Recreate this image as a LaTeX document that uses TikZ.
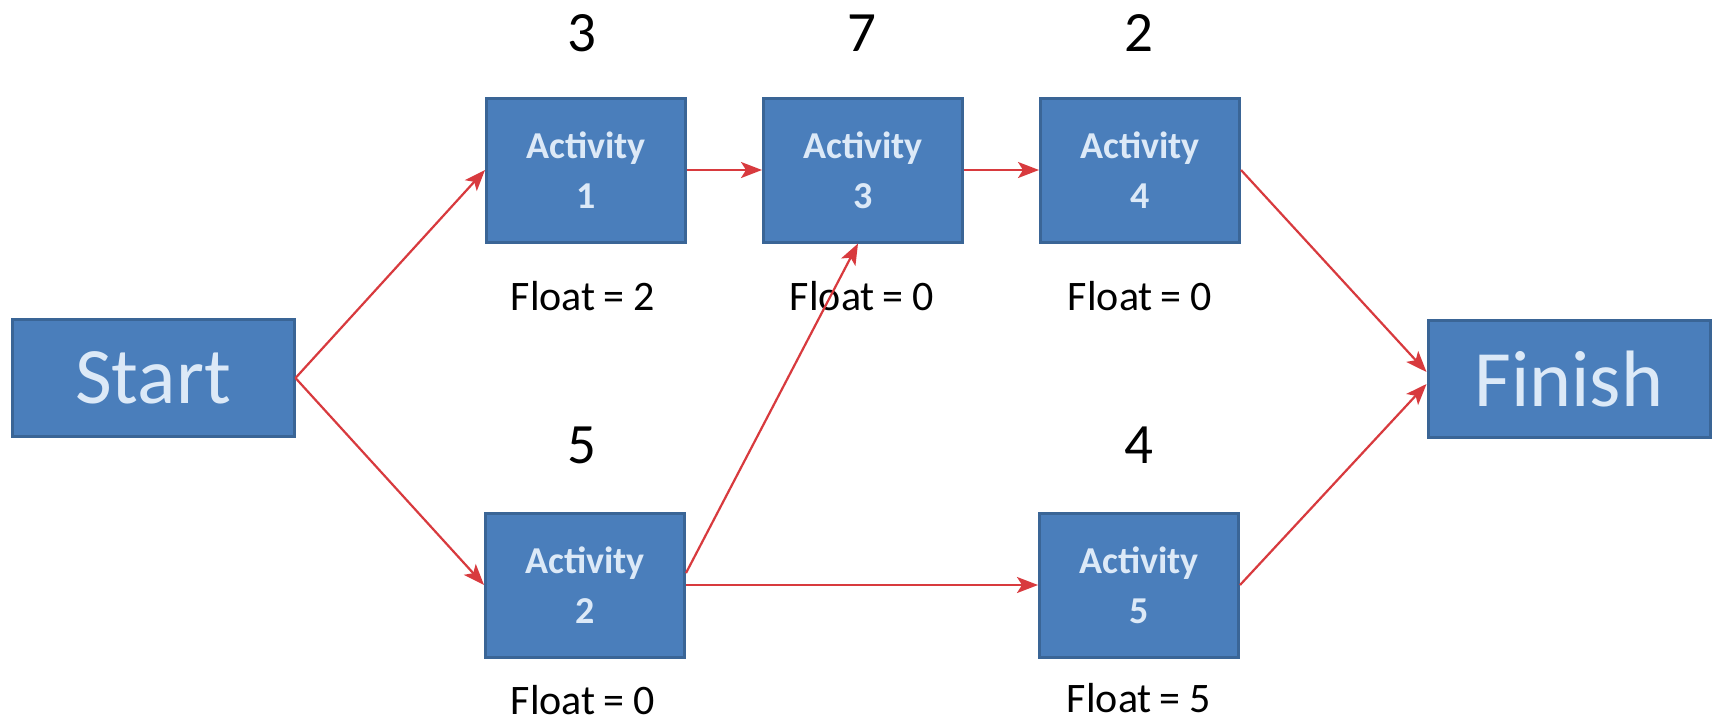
\documentclass[tikz,border=0pt]{standalone}
\usepackage{fontspec}
\setmainfont{Carlito}
\usetikzlibrary{arrows.meta}
\definecolor{boxfill}{HTML}{4A7EBB}
\definecolor{boxline}{HTML}{3A6596}
\definecolor{boxtext}{HTML}{DCE9F7}
\definecolor{arrowred}{HTML}{D83A3E}
\tikzset{
  bigbox/.style={draw=boxline, line width=3pt, fill=boxfill, text=boxtext,
    minimum width=282pt, minimum height=117pt, inner sep=0pt,
    font=\fontsize{80}{90}\selectfont},
  actbox/.style={draw=boxline, line width=3pt, fill=boxfill, text=boxtext,
    minimum width=199pt, minimum height=144pt, inner sep=0pt, align=center,
    font=\fontsize{38}{50}\selectfont\bfseries},
  durlabel/.style={font=\fontsize{57}{60}\selectfont, text=black, inner sep=0pt},
  floatlabel/.style={font=\fontsize{42}{46}\selectfont, text=black, inner sep=0pt},
  link/.style={draw=arrowred, line width=2.2pt,
    -{Stealth[length=21pt, width=16pt, inset=5pt]}},
}
\begin{document}
\begin{tikzpicture}[x=1pt, y=-1pt]
\useasboundingbox (0,0) rectangle (1716,723);
\fill[white] (0,0) rectangle (1716,723);

\node[bigbox] (start) at (153,378) {Start};
\node[bigbox] (finish) at (1569,379) {Finish};

\node[actbox] (a1) at (586,170) {Activity\\1};
\node[actbox] (a3) at (863,170) {Activity\\3};
\node[actbox] (a4) at (1140,170) {Activity\\4};
\node[actbox] (a2) at (585,585) {Activity\\2};
\node[actbox] (a5) at (1139,585) {Activity\\5};

\node[durlabel] (d1) at (582,33) {3};
\node[durlabel] (d3) at (862,33) {7};
\node[durlabel] (d4) at (1139,33) {2};
\node[durlabel] (d2) at (582,445) {5};
\node[durlabel] (d5) at (1139,445) {4};

\node[floatlabel] (f1) at (583,296) {Float\hspace{-2pt} = 2};
\node[floatlabel] (f3) at (862,296) {Float\hspace{-2pt} = 0};
\node[floatlabel] (f4) at (1140,296) {Float\hspace{-2pt} = 0};
\node[floatlabel] (f2) at (583,700) {Float\hspace{-2pt} = 0};
\node[floatlabel] (f5) at (1139,698) {Float\hspace{-2pt} = 5};

\draw[link] (start.east) -- (a1.west);
\draw[link] (start.east) -- (a2.west);
\draw[link] (a1.east) -- (a3.west);
\draw[link] (a3.east) -- (a4.west);
\draw[link] ([yshift=12pt]a2.east) -- ([xshift=-5pt]a3.south);
\draw[link] (a2.east) -- (a5.west);
\draw[link] (a4.east) -- ([yshift=7pt]finish.west);
\draw[link] (a5.east) -- ([yshift=-5pt]finish.west);
\end{tikzpicture}
\end{document}
